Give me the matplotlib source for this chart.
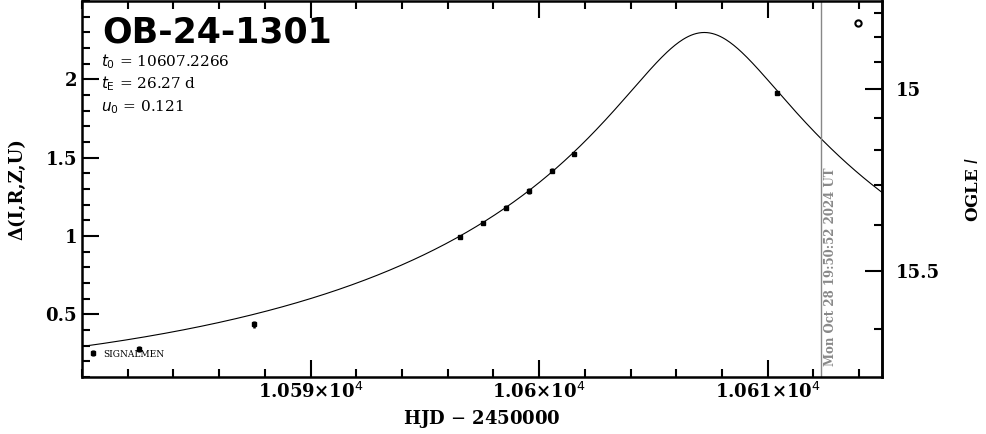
import numpy as np
import matplotlib
matplotlib.use('Agg')
import matplotlib.pyplot as plt
from matplotlib.ticker import MultipleLocator, FuncFormatter, FixedLocator

# Event / model parameters (as printed on the chart)
event = 'OB-24-1301'
t0 = 10607.2266
tE = 26.27
u0 = 0.121

# Photometry (HJD-2450000, delta mag, error)
hjd = [10580.48, 10582.49, 10587.52, 10596.54, 10597.54, 10598.55, 10599.55, 10600.56, 10601.52, 10610.40]
delta = [0.252, 0.278, 0.436, 0.994, 1.083, 1.180, 1.288, 1.417, 1.526, 1.910]
err = [0.018, 0.018, 0.022, 0.015, 0.010, 0.015, 0.020, 0.018, 0.010, 0.008]

# odd point drawn as open circle
hjd_open = [10613.95]
delta_open = [2.36]

x_ticks = [10590, 10600, 10610]
y_ticks = [0.5, 1.0, 1.5, 2.0]
mag_ticks = [15.0, 15.5]
mag_minor = [14.7, 14.8, 14.9, 15.1, 15.2, 15.3, 15.4, 15.6]

now_hjd = 10612.327
now_text = 'Mon Oct 28 19:50:52 2024 UT'

plt.rcParams['font.family'] = 'DejaVu Serif'

# PSPL model curve from the printed parameters
t = np.linspace(10580, 10615, 600)
u = np.sqrt(u0**2 + ((t - t0) / tE)**2)
A = (u**2 + 2) / (u * np.sqrt(u**2 + 4))
model = 2.5 * np.log10(A)

fig = plt.figure(figsize=(9.86, 4.34), dpi=100)
ax = fig.add_axes([0.0832, 0.1313, 0.8113, 0.8664])

ax.plot(t, model, color='black', lw=0.8)
ax.errorbar(hjd, delta, yerr=err, fmt='s', ms=2.5, color='black', ecolor='black',
            elinewidth=1.8, capsize=0)
ax.plot(hjd_open, delta_open, 'o', ms=4.5, mfc='white', mec='black', mew=1.5)

ax.axvline(now_hjd, color='#888888', lw=1)
ax.text(now_hjd + 0.12, 0.17, now_text, rotation=90, color='#888888', fontsize=8.5,
        fontweight='bold', ha='left', va='bottom')

ax.set_xlim(10580, 10615)
ax.set_ylim(0.1, 2.5)

ax.xaxis.set_major_locator(FixedLocator(x_ticks))
ax.xaxis.set_minor_locator(MultipleLocator(2))
ax.xaxis.set_major_formatter(FuncFormatter(lambda v, p: '%g×10$^{4}$' % (v / 1e4)))
ax.yaxis.set_major_locator(FixedLocator(y_ticks))
ax.yaxis.set_minor_locator(MultipleLocator(0.1))
ax.yaxis.set_major_formatter(FuncFormatter(lambda v, p: '%g' % v))

ax.tick_params(which='both', direction='in', top=True, right=False, width=1.5,
               labelsize=13)
ax.tick_params(which='major', length=12)
ax.tick_params(which='minor', length=6)
for lab in ax.get_xticklabels() + ax.get_yticklabels():
    lab.set_fontweight('bold')
for s in ax.spines.values():
    s.set_linewidth(1.8)

ax.set_xlabel('HJD $-$ 2450000', fontsize=13, fontweight='bold', labelpad=4)
ax.set_ylabel('Δ(I,R,Z,U)', fontsize=13, fontweight='bold', labelpad=14)

# OGLE I magnitude on the right (blended flux relation)
def d2m(d):
    return 15 - 2.5 * np.log10(10**((np.asarray(d) - 2.562) / 2.5) + 0.438)

def m2d(m):
    f = 10**(-0.4 * (np.asarray(m) - 15)) - 0.438
    return 2.5 * np.log10(np.clip(f, 1e-6, None)) + 2.562

sec = ax.secondary_yaxis('right', functions=(d2m, m2d))
sec.yaxis.set_major_locator(FixedLocator(mag_ticks))
sec.yaxis.set_minor_locator(FixedLocator(mag_minor))
sec.yaxis.set_major_formatter(FuncFormatter(lambda v, p: '%g' % v))
sec.tick_params(which='both', direction='in', width=1.5, labelsize=13, pad=10)
sec.tick_params(which='major', length=12)
sec.tick_params(which='minor', length=6)
for lab in sec.get_yticklabels():
    lab.set_fontweight('bold')
sec.spines['right'].set_linewidth(1.8)
fig.text(0.987, 0.5645, 'OGLE $\\mathit{I}$', rotation=90, fontsize=12,
         fontweight='bold', ha='center', va='center')

ax.text(10580.9, 2.30, event, fontsize=25, fontweight='bold', family='DejaVu Sans',
        va='center', ha='left')
ax.text(10580.85, 2.11, '$t_0$ = 10607.2266', fontsize=11, va='center')
ax.text(10580.85, 1.97, '$t_{\\rm E}$ = 26.27 d', fontsize=11, va='center')
ax.text(10580.85, 1.82, '$u_0$ = 0.121', fontsize=11, va='center')
ax.text(10580.95, 0.245, 'SIGNALMEN', fontsize=6.5, va='center')

fig.savefig('out.png', dpi=100)
